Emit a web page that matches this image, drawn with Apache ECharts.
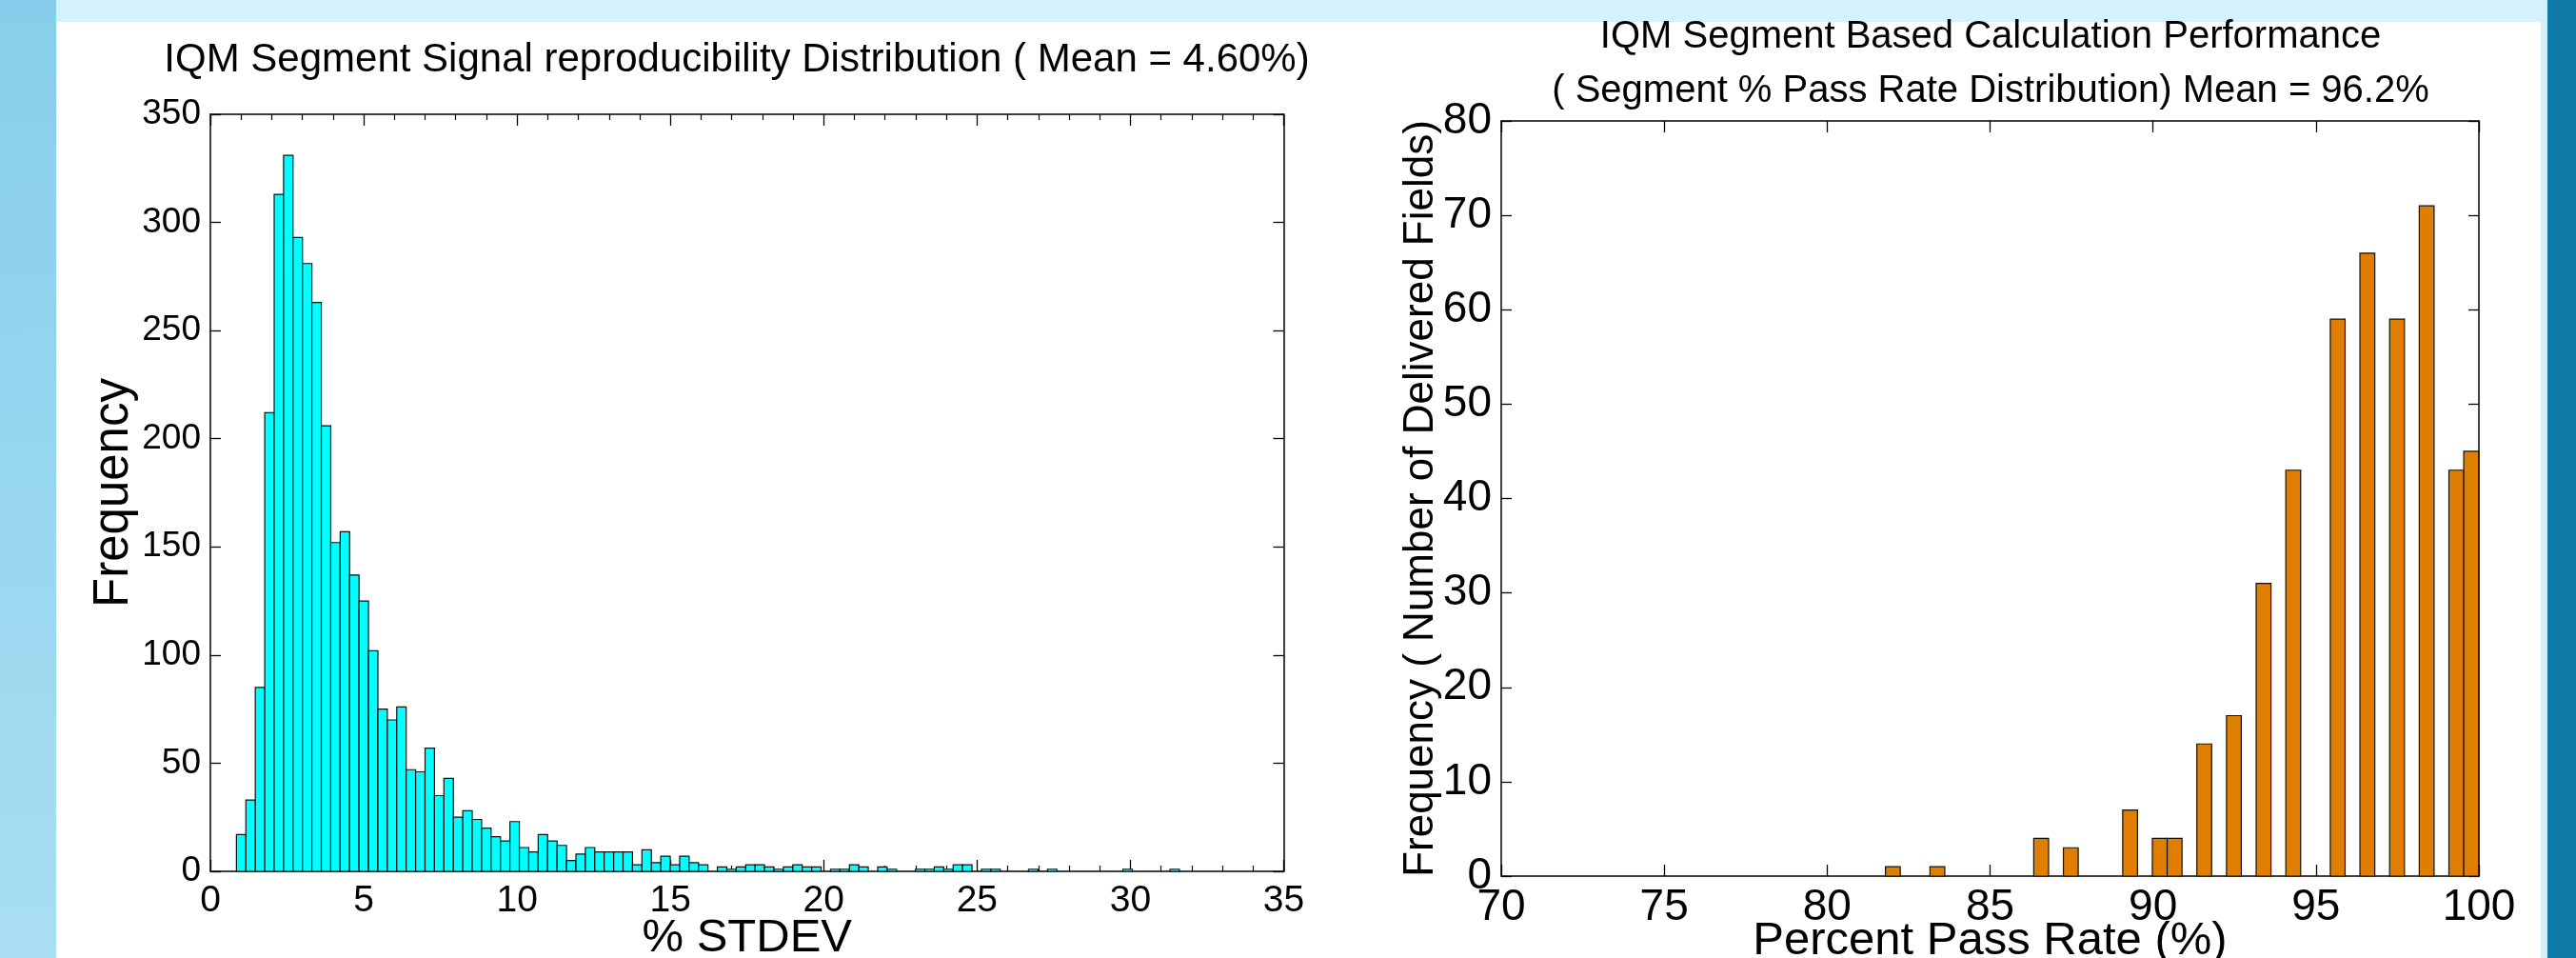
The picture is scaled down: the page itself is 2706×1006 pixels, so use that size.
<!DOCTYPE html>
<html><head><meta charset="utf-8">
<script src="https://cdn.jsdelivr.net/npm/echarts@6/dist/echarts.min.js"></script>
<style>html,body{margin:0;padding:0;background:#fff}#chart{width:2706px;height:1006px}</style>
</head><body><div id="chart"></div>
<script>
// ---- Left histogram: % STDEV (100 bins) ----
const stdevBinStart = 0.85;
const stdevBinWidth = 0.3075;
const stdevCounts = [
  17,33,85,212,313,331,293,281,263,206,
  152,157,137,125,102,75,70,76,47,46,
  57,35,43,25,28,24,20,16,14,23,
  11,9,17,14,12,5,8,11,9,9,
  9,9,3,10,4,7,3,7,4,3,
  0,2,1,2,3,3,2,1,2,3,
  2,2,0,1,1,3,2,0,2,1,
  0,0,1,1,2,1,3,3,0,1,
  1,0,0,0,1,0,1,0,0,0,
  0,0,0,0,1,0,0,0,0,1
];
const stdevTicks = [0,5,10,15,20,25,30,35];
const freqTicks = [0,50,100,150,200,250,300,350];

// ---- Right histogram: Percent Pass Rate (40 bins) ----
const passBinStart = 81.79;
const passBinWidth = 0.455;
const passCounts = [
  1,0,0,1,0,0,0,0,0,0,
  4,0,3,0,0,0,7,0,4,4,
  0,14,0,17,0,31,0,43,0,0,
  59,0,66,0,59,0,71,0,43,45
];
const passTicks = [70,75,80,85,90,95,100];
const fieldTicks = [0,10,20,30,40,50,60,70,80];

const leftTitle = 'IQM Segment Signal reproducibility Distribution ( Mean = 4.60%)';
const rightTitle = 'IQM Segment Based Calculation Performance\n( Segment % Pass Rate Distribution) Mean = 96.2%';

function histData(start, width, counts) {
  return counts.map((c, i) => [start + i * width, start + (i + 1) * width, c]);
}

const FONT = "'Liberation Sans', Arial, Helvetica, sans-serif";

function makeRender(fill) {
  return function (params, api) {
    const c = api.value(2);
    if (!c) return null;
    const p0 = api.coord([api.value(0), c]);
    const p1 = api.coord([api.value(1), 0]);
    return {
      type: 'rect',
      shape: { x: p0[0], y: p0[1], width: p1[0] - p0[0], height: p1[1] - p0[1] },
      style: { fill: fill, stroke: '#111', lineWidth: 1.2 }
    };
  };
}

function xAx(grid, min, max, interval, pos, labels, fontSize, minor, name, nameGap, nameSize, margin) {
  return {
    type: 'value', gridIndex: grid, min: min, max: max, interval: interval, position: pos,
    axisLine: { show: true, onZero: false, lineStyle: { color: '#000', width: 1.5 } },
    axisTick: { show: true, inside: true, length: 12, lineStyle: { color: '#000', width: 1.3 } },
    minorTick: { show: minor, splitNumber: 5, length: 6, lineStyle: { color: '#000', width: 1.2 } },
    splitLine: { show: false },
    axisLabel: { show: labels, color: '#000', fontSize: fontSize, fontFamily: FONT, margin: margin || 10 },
    name: name, nameLocation: 'middle', nameGap: nameGap, nameMoveOverlap: false,
    nameTextStyle: { color: '#000', fontSize: nameSize, fontFamily: FONT }
  };
}
function yAx(grid, min, max, interval, pos, labels, fontSize, name, nameGap, nameSize) {
  return {
    type: 'value', gridIndex: grid, min: min, max: max, interval: interval, position: pos,
    axisLine: { show: true, onZero: false, lineStyle: { color: '#000', width: 1.5 } },
    axisTick: { show: true, inside: true, length: 11, lineStyle: { color: '#000', width: 1.3 } },
    splitLine: { show: false },
    axisLabel: { show: labels, color: '#000', fontSize: fontSize, fontFamily: FONT, margin: 10 },
    name: name, nameLocation: 'middle', nameGap: nameGap, nameMoveOverlap: false,
    nameTextStyle: { color: '#000', fontSize: nameSize, fontFamily: FONT }
  };
}

const chart = echarts.init(document.getElementById('chart'), null, { renderer: 'canvas' });
chart.setOption({
  backgroundColor: '#ffffff',
  animation: false,
  graphic: [
    { type: 'rect', left: 0, top: 0, shape: { width: 59, height: 1006 }, z: -1,
      style: { fill: new echarts.graphic.LinearGradient(0, 0, 0.2, 1, [
        { offset: 0, color: '#86CEEB' }, { offset: 1, color: '#A9DEF3' }]) } },
    { type: 'rect', left: 59, top: 0, shape: { width: 2617, height: 23 }, z: -1, style: { fill: '#D4F2FD' } },
    { type: 'rect', left: 2669, top: 0, shape: { width: 7, height: 1006 }, z: -1, style: { fill: '#D4F2FD' } },
    { type: 'rect', left: 2676, top: 0, shape: { width: 30, height: 1006 }, z: -1, style: { fill: '#0E7CA7' } }
  ],
  title: [
    { text: leftTitle, left: 774, top: 42, textAlign: 'center', padding: 0,
      textStyle: { fontSize: 42, fontWeight: 'normal', color: '#000', fontFamily: FONT } },
    { text: rightTitle, left: 2091, top: 10, textAlign: 'center', padding: 0,
      textStyle: { fontSize: 40, fontWeight: 'normal', color: '#000', fontFamily: FONT, lineHeight: 57 } }
  ],
  grid: [
    { left: 221, top: 120, width: 1127.5, height: 795, outerBoundsMode: 'none', containLabel: false },
    { left: 1577, top: 127, width: 1027, height: 793, outerBoundsMode: 'none', containLabel: false }
  ],
  xAxis: [
    xAx(0, stdevTicks[0], stdevTicks[stdevTicks.length - 1], 5, 'bottom', true, 39, true, '% STDEV', 46, 49, 12),
    xAx(0, stdevTicks[0], stdevTicks[stdevTicks.length - 1], 5, 'top', false, 38, true, '', 0, 10),
    xAx(1, passTicks[0], passTicks[passTicks.length - 1], 5, 'bottom', true, 46, false, 'Percent Pass Rate (%)', 44, 49, 10),
    xAx(1, passTicks[0], passTicks[passTicks.length - 1], 5, 'top', false, 46, false, '', 0, 10)
  ],
  yAxis: [
    yAx(0, freqTicks[0], freqTicks[freqTicks.length - 1], 50, 'left', true, 37, 'Frequency', 76, 51),
    yAx(0, freqTicks[0], freqTicks[freqTicks.length - 1], 50, 'right', false, 37, '', 0, 10),
    yAx(1, fieldTicks[0], fieldTicks[fieldTicks.length - 1], 10, 'left', true, 46, 'Frequency ( Number of Delivered Fields)', 62, 44),
    yAx(1, fieldTicks[0], fieldTicks[fieldTicks.length - 1], 10, 'right', false, 46, '', 0, 10)
  ],
  series: [
    { type: 'custom', xAxisIndex: 0, yAxisIndex: 0, renderItem: makeRender('#00FFFF'),
      encode: { x: [0, 1], y: 2 }, data: histData(stdevBinStart, stdevBinWidth, stdevCounts) },
    { type: 'custom', xAxisIndex: 2, yAxisIndex: 2, renderItem: makeRender('#DF7E00'),
      encode: { x: [0, 1], y: 2 }, data: histData(passBinStart, passBinWidth, passCounts) }
  ]
});
</script></body></html>
